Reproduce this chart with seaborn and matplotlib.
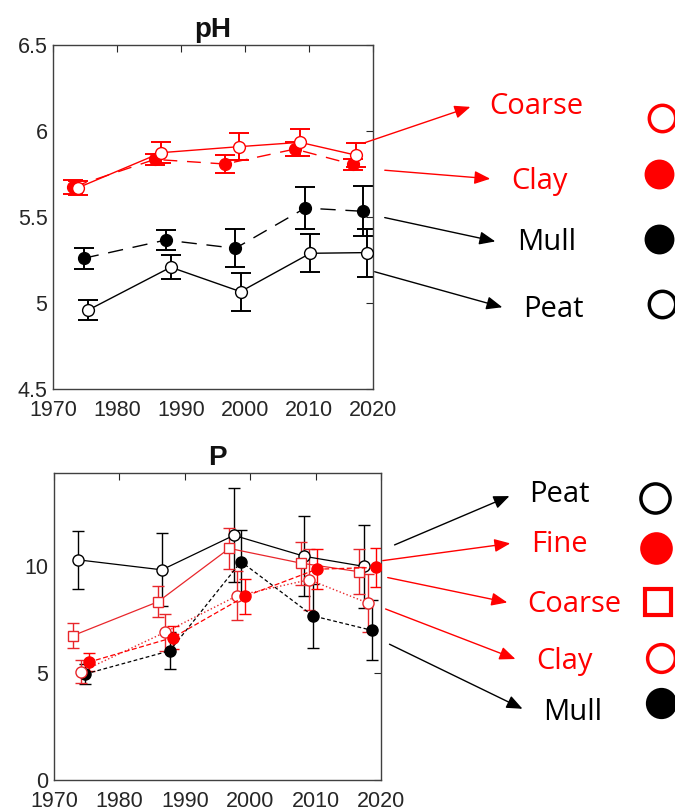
import numpy as np
import pandas as pd
import seaborn as sns
import matplotlib
matplotlib.use("Agg")
import matplotlib.pyplot as plt
from matplotlib.lines import Line2D

# ---------------- data: pH panel ----------------
ph_coarse_x = [1973.9, 1986.9, 1999.1, 2008.6, 2017.4]
ph_coarse_y = [5.67, 5.874, 5.909, 5.934, 5.859]
ph_coarse_e = [0.04, 0.06, 0.08, 0.08, 0.07]

ph_clay_x = [1973.2, 1985.9, 1996.9, 2007.8, 2016.8]
ph_clay_y = [5.676, 5.835, 5.808, 5.895, 5.806]
ph_clay_e = [0.04, 0.03, 0.05, 0.04, 0.03]

ph_mull_x = [1974.8, 1987.6, 1998.5, 2009.4, 2018.5]
ph_mull_y = [5.26, 5.366, 5.318, 5.552, 5.533]
ph_mull_e = [0.06, 0.06, 0.11, 0.12, 0.145]

ph_peat_x = [1975.5, 1988.4, 1999.3, 2010.2, 2019.0]
ph_peat_y = [4.959, 5.208, 5.066, 5.289, 5.293]
ph_peat_e = [0.06, 0.07, 0.11, 0.11, 0.14]

# ---------------- data: P panel ----------------
p_peat_x = [1973.6, 1986.5, 1997.5, 2008.3, 2017.4]
p_peat_y = [10.28, 9.81, 11.42, 10.44, 9.97]
p_peat_e = [1.36, 1.7, 2.2, 1.87, 1.93]

p_coarse_x = [1972.9, 1985.9, 1996.8, 2007.8, 2016.7]
p_coarse_y = [6.74, 8.32, 10.81, 10.12, 9.72]
p_coarse_e = [0.57, 0.72, 0.97, 1.0, 1.05]

p_fine_x = [1975.3, 1988.2, 1999.2, 2010.2, 2019.2]
p_fine_y = [5.50, 6.65, 8.57, 9.84, 9.92]
p_fine_e = [0.41, 0.55, 0.82, 0.92, 0.91]

p_clay_x = [1974.2, 1987.0, 1998.0, 2009.0, 2018.0]
p_clay_y = [5.06, 6.90, 8.60, 9.35, 8.26]
p_clay_e = [0.53, 0.87, 1.14, 1.43, 1.34]

p_mull_x = [1974.8, 1987.7, 1998.6, 2009.6, 2018.7]
p_mull_y = [4.95, 6.03, 10.19, 7.66, 6.98]
p_mull_e = [0.45, 0.86, 1.5, 1.5, 1.4]

x_ticks = [1970, 1980, 1990, 2000, 2010, 2020]
ph_ticks = [4.5, 5, 5.5, 6, 6.5]
ph_ticklabels = ["4.5", "5", "5.5", "6", "6.5"]
p_ticks = [0, 5, 10]

RED = "#ff0000"
RED2 = "#e8262b"
BLACK = "#000000"

sns.set_style("white")
plt.rcParams["font.family"] = ["Liberation Sans", "DejaVu Sans"]

W, H = 675, 811
fig = plt.figure(figsize=(W / 100, H / 100), dpi=100)


def ax_rect(l, t, r, b):
    return [l / W, 1 - b / H, (r - l) / W, (b - t) / H]


def fp(x, y):
    return (x / W, 1 - y / H)


ax1 = fig.add_axes(ax_rect(53, 45, 373, 389))
ax2 = fig.add_axes(ax_rect(54, 473, 381, 780))


def series(ax, x, y, e, color, ls, marker, mfc, ms, lw, elw, cap):
    df = pd.DataFrame({"year": x, "val": y})
    ax.errorbar(x, y, yerr=e, fmt="none", ecolor=color, elinewidth=elw,
                capsize=cap, capthick=elw, zorder=2)
    sns.lineplot(data=df, x="year", y="val", ax=ax, color=color, errorbar=None,
                 linestyle=ls, linewidth=lw, marker=marker, markersize=ms,
                 markerfacecolor=mfc, markeredgecolor=color,
                 markeredgewidth=1.0, zorder=3, sort=False)


# pH panel
series(ax1, ph_peat_x, ph_peat_y, ph_peat_e, BLACK, "-", "o", "white", 8.5, 1.0, 1.4, 7)
series(ax1, ph_mull_x, ph_mull_y, ph_mull_e, BLACK, (0, (11, 7)), "o", BLACK, 8.5, 1.0, 1.4, 7)
series(ax1, ph_clay_x, ph_clay_y, ph_clay_e, RED, (0, (10, 7)), "o", RED, 8.5, 1.0, 1.4, 7)
series(ax1, ph_coarse_x, ph_coarse_y, ph_coarse_e, RED, "-", "o", "white", 8.5, 1.0, 1.4, 7)

# P panel
series(ax2, p_mull_x, p_mull_y, p_mull_e, BLACK, (0, (3, 2)), "o", BLACK, 8, 0.9, 1.0, 4.5)
series(ax2, p_peat_x, p_peat_y, p_peat_e, BLACK, "-", "o", "white", 8, 0.9, 1.0, 4.5)
series(ax2, p_coarse_x, p_coarse_y, p_coarse_e, RED2, "-", "s", "white", 7, 0.9, 1.0, 4.5)
series(ax2, p_clay_x, p_clay_y, p_clay_e, RED2, ":", "o", "white", 8, 1.0, 1.0, 4.5)
series(ax2, p_fine_x, p_fine_y, p_fine_e, RED, (0, (4, 2)), "o", RED, 8, 0.9, 1.0, 4.5)

for ax in (ax1, ax2):
    ax.set_xlim(1970, 2020)
    ax.set_xticks(x_ticks)
    ax.set_xlabel("")
    ax.set_ylabel("")
    ax.tick_params(direction="in", length=5, width=0.8, top=True, right=True,
                   labelsize=15.5, colors="#262626")
    ax.tick_params(axis="x", pad=8)
    ax.tick_params(axis="y", pad=4)
    for s in ax.spines.values():
        s.set_color("#404040")
        s.set_linewidth(1.0)
    ax.set_facecolor("white")

ax1.set_ylim(4.5, 6.5)
ax1.set_yticks(ph_ticks)
ax1.set_yticklabels(ph_ticklabels)
ax1.set_title("pH", fontsize=20, fontweight="bold", pad=6, color="#111111")

ax2.set_ylim(0, 14.33)
ax2.set_yticks(p_ticks)
ax2.set_title("P", fontsize=20, fontweight="bold", pad=6, color="#111111")

# ---------------- annotations ----------------
TXT_FONT = ["Open Sans", "DejaVu Sans"]


def label(text, start, end, tx, ty, color):
    fig.add_artist(matplotlib.patches.FancyArrowPatch(
        fp(*start), fp(*end), transform=fig.transFigure,
        arrowstyle="-|>,head_length=6,head_width=2.5", mutation_scale=1.6,
        color=color, linewidth=1.0))
    fig.text(tx / W, 1 - ty / H, text, color=color, fontsize=21,
             family=TXT_FONT, ha="left", va="center")


def sym(x, y, marker, mfc, mec, ms, mew=2.5):
    fig.add_artist(Line2D([x / W], [1 - y / H], marker=marker, ms=ms,
                          mfc=mfc, mec=mec, mew=mew, linestyle="none",
                          transform=fig.transFigure))


# pH labels
label("Coarse", (361, 144), (473, 106), 489, 107, RED)
label("Clay", (382, 170), (493, 179), 511, 182, RED)
label("Mull", (382, 217), (498, 242), 517, 242, BLACK)
label("Peat", (372, 271), (505, 308), 523, 309, BLACK)
sym(662, 118, "o", "white", RED, 19)
sym(659, 174, "o", RED, RED, 19)
sym(659, 239, "o", BLACK, BLACK, 19)
sym(662, 304, "o", "white", BLACK, 19)

# P labels
label("Peat", (392, 546), (512, 495), 529, 494, BLACK)
label("Fine", (380, 561), (513, 543), 531, 545, RED)
label("Coarse", (385, 577), (510, 603), 527, 604, RED)
label("Clay", (383, 608), (518, 660), 536, 661, RED)
label("Mull", (387, 643), (525, 710), 543, 712, BLACK)
sym(655, 498, "o", "white", BLACK, 21)
sym(656, 548, "o", RED, RED, 21)
sym(658, 602, "s", "white", RED, 19, 3)
sym(661, 658, "o", "white", RED, 20)
sym(661, 703, "o", BLACK, BLACK, 20)

fig.savefig("out.png", dpi=100, facecolor="white")
